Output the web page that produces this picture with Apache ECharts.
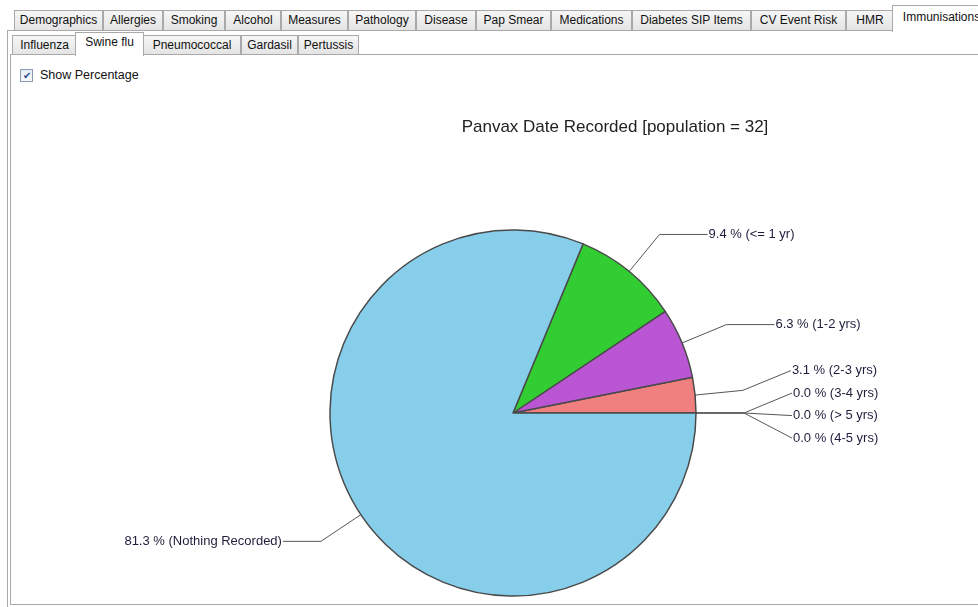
<!DOCTYPE html>
<html lang="en">

<head>
    <meta charset="UTF-8">
    <title>Panvax Date Recorded</title>
    <script src="https://cdn.jsdelivr.net/npm/echarts@6/dist/echarts.min.js"></script>
    <style>
        html,
        body {
            margin: 0;
            padding: 0;
            width: 978px;
            height: 607px;
            overflow: hidden;
            background: #fff;
            font-family: "Liberation Sans", Arial, sans-serif;
            font-size: 12px;
            color: #111;
        }

        .tab {
            position: absolute;
            box-sizing: border-box;
            border: 1px solid #a9a9a9;
            border-bottom: none;
            background: linear-gradient(#f6f6f6, #e3e3e3);
            text-align: center;
            white-space: nowrap;
            overflow: hidden;
        }

        .tab.active {
            background: #fff;
            z-index: 2;
        }

        .row1 {
            top: 10px;
            height: 21px;
            line-height: 19px;
        }

        .row1.active {
            top: 5px;
            height: 27px;
            line-height: 22px;
        }

        .row2 {
            top: 35px;
            height: 20px;
            line-height: 19px;
        }

        .row2.active {
            top: 32px;
            height: 24px;
            line-height: 19px;
        }

        .line {
            position: absolute;
            background: #a9a9a9;
        }

        #check {
            position: absolute;
            left: 20px;
            top: 69px;
            width: 11px;
            height: 11px;
            border: 1px solid #8a9bb5;
            background: linear-gradient(#e6ecf5, #f8f9fb);
            font-size: 10px;
            line-height: 11px;
            text-align: center;
            color: #2b4b8c;
        }

        #checkText {
            position: absolute;
            left: 40px;
            top: 68px;
            font-size: 12.5px;
        }

        #chart {
            position: absolute;
            left: 0;
            top: 0;
            width: 978px;
            height: 607px;
            z-index: 5;
        }
    </style>
</head>

<body>
    <div id="tabs"></div>
    <div class="line" style="left:7px;top:30px;width:971px;height:1px;"></div>
    <div class="line" style="left:7px;top:30px;width:1px;height:577px;"></div>
    <div class="line" style="left:10px;top:54px;width:968px;height:1px;"></div>
    <div class="line" style="left:10px;top:54px;width:1px;height:551px;"></div>
    <div class="line" style="left:10px;top:604px;width:968px;height:1px;"></div>
    <div id="check">&#10004;</div>
    <div id="checkText">Show Percentage</div>
    <div id="chart"></div>

    <script>
        // tab strips
        var mainTabs = ['Demographics', 'Allergies', 'Smoking', 'Alcohol', 'Measures', 'Pathology', 'Disease',
            'Pap Smear', 'Medications', 'Diabetes SIP Items', 'CV Event Risk', 'HMR', 'Immunisations'];
        var mainTabEdges = [14, 103, 163, 225, 281, 348, 416, 476, 551, 632, 751, 846, 894, 990];
        var subTabs = ['Influenza', 'Swine flu', 'Pneumococcal', 'Gardasil', 'Pertussis'];
        var subTabEdges = [12, 77, 143, 241, 298, 359];

        // chart data (counter-clockwise from 3 o'clock)
        var categories = ['(4-5 yrs)', '(> 5 yrs)', '(3-4 yrs)', '(2-3 yrs)', '(1-2 yrs)', '(<= 1 yr)', '(Nothing Recorded)'];
        var counts = [0, 0, 0, 1, 2, 3, 26];
        var colors = ['#f08080', '#f08080', '#f08080', '#f08080', '#ba55d3', '#32cd32', '#87ceeb'];
        var population = 32;

        var pieCenter = [513, 413];
        var pieRadius = 183;
        var lineLen = 48;
        var labelGap = 22.5;

        function buildTabs(names, edges, cls, activeIdx) {
            var html = '';
            names.forEach(function(name, i) {
                var c = 'tab ' + cls + (i === activeIdx ? ' active' : '');
                var left = edges[i], width = edges[i + 1] - edges[i];
                if (i === activeIdx) {
                    left -= 2;
                    width += 3;
                }
                html += '<div class="' + c + '" style="left:' + left + 'px;width:' + width + 'px;">' + name + '</div>';
            });
            return html;
        }
        document.getElementById('tabs').innerHTML =
            buildTabs(mainTabs, mainTabEdges, 'row1', 12) +
            buildTabs(subTabs, subTabEdges, 'row2', 1);

        var total = counts.reduce(function(a, b) { return a + b; }, 0);

        // spread crowded labels on the right side evenly round their mean position
        function computeLabelOffsets() {
            var start = 0, items = [];
            counts.forEach(function(v, i) {
                var sweep = v / total * 360;
                var mid = (start + sweep / 2) * Math.PI / 180;
                start += sweep;
                if (Math.cos(mid) >= 0) {
                    items.push({ i: i, y: pieCenter[1] - (pieRadius + lineLen) * Math.sin(mid) });
                }
            });
            items.sort(function(a, b) { return a.y - b.y || b.i - a.i; });
            var groups = items.map(function(it) { return { list: [it], center: it.y }; });
            var merged = true;
            while (merged) {
                merged = false;
                for (var k = 0; k < groups.length - 1; k++) {
                    var a = groups[k], b = groups[k + 1];
                    var aBottom = a.center + (a.list.length - 1) * labelGap / 2;
                    var bTop = b.center - (b.list.length - 1) * labelGap / 2;
                    if (bTop - aBottom < labelGap) {
                        var list = a.list.concat(b.list);
                        var sum = list.reduce(function(s, it) { return s + it.y; }, 0);
                        groups.splice(k, 2, { list: list, center: sum / list.length });
                        merged = true;
                        break;
                    }
                }
            }
            var offsets = {};
            groups.forEach(function(g) {
                var top = g.center - (g.list.length - 1) * labelGap / 2;
                g.list.forEach(function(it, j) {
                    offsets[it.i] = top + j * labelGap - it.y;
                });
            });
            return offsets;
        }
        var labelOffsets = computeLabelOffsets();

        var pieData = categories.map(function(name, i) {
            return {
                name: name,
                value: counts[i],
                itemStyle: { color: colors[i] },
                labelLine: i === categories.length - 1 ? { length2: 38 } : undefined
            };
        });

        var chart = echarts.init(document.getElementById('chart'));
        chart.setOption({
            animation: false,
            title: {
                text: 'Panvax Date Recorded [population = ' + population + ']',
                left: 610,
                top: 114,
                textAlign: 'center',
                textStyle: {
                    fontFamily: 'Liberation Sans',
                    fontSize: 17,
                    fontWeight: 'normal',
                    color: '#222'
                }
            },
            series: [{
                type: 'pie',
                center: pieCenter,
                radius: pieRadius,
                startAngle: 0,
                clockwise: false,
                avoidLabelOverlap: false,
                minShowLabelAngle: 0,
                data: pieData,
                itemStyle: {
                    borderColor: '#4a4a4a',
                    borderWidth: 1.5
                },
                label: {
                    show: true,
                    formatter: function(p) {
                        return (p.value / total * 100).toFixed(1) + ' % ' + p.name;
                    },
                    fontFamily: 'Liberation Sans',
                    fontSize: 13,
                    color: '#1e1e3c',
                    distanceToLabelLine: 1
                },
                labelLine: {
                    show: true,
                    length: lineLen,
                    length2: 48,
                    lineStyle: {
                        color: '#555',
                        width: 1
                    }
                },
                labelLayout: function(p) {
                    var off = labelOffsets[p.dataIndex];
                    if (!off) {
                        return {};
                    }
                    var res = {
                        y: p.labelRect.y + p.labelRect.height / 2 + off - 3,
                        verticalAlign: 'middle'
                    };
                    var pts = p.labelLinePoints;
                    if (pts && pts.length === 3) {
                        res.labelLinePoints = [pts[0], pts[1], [pts[2][0], pts[2][1] + off - 3]];
                    }
                    return res;
                },
                emphasis: { disabled: true }
            }]
        });
    </script>
</body>

</html>
